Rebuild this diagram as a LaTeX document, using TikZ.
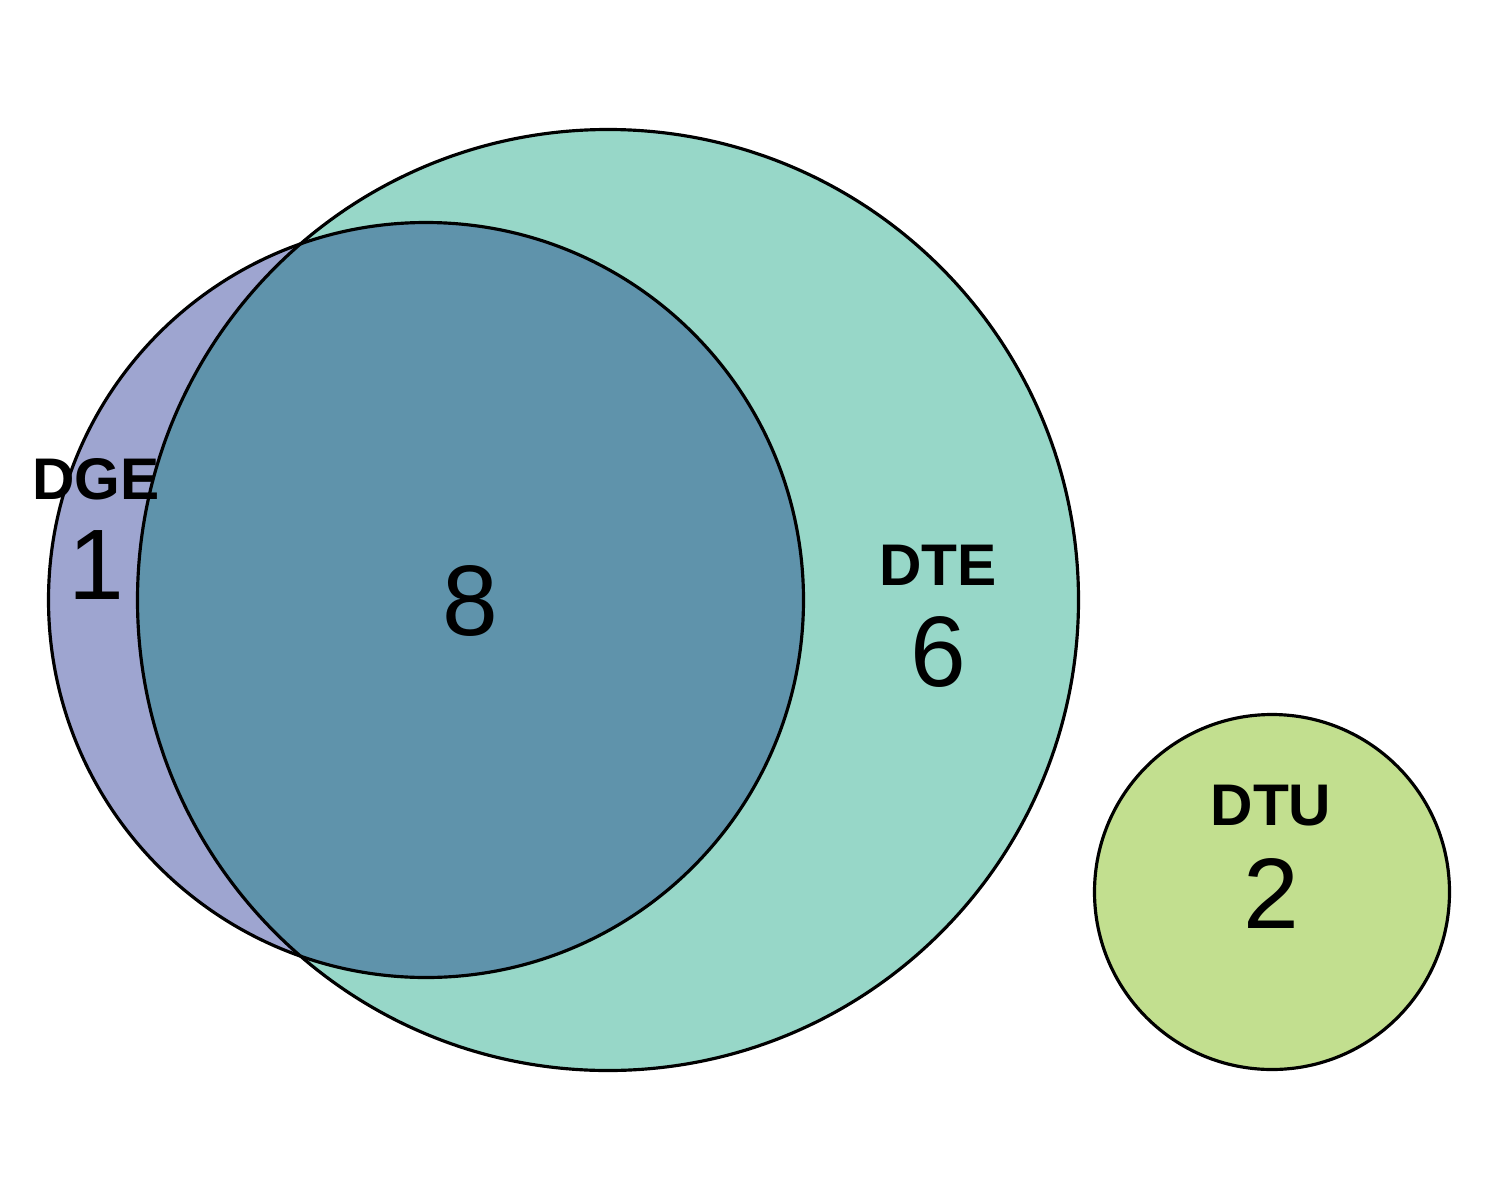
\documentclass[tikz,border=0pt]{standalone}
\usepackage{fontspec}
\setmainfont{Liberation Sans}
\definecolor{dgecol}{RGB}{158,165,208}
\definecolor{dtecol}{RGB}{151,215,200}
\definecolor{bothcol}{RGB}{95,147,171}
\definecolor{dtucol}{RGB}{194,223,143}
\begin{document}
\begin{tikzpicture}[x=0.01cm,y=-0.01cm,
  setname/.style={font=\fontsize{16.7}{20}\selectfont\bfseries, inner sep=0pt},
  setcount/.style={font=\fontsize{28.5}{34}\selectfont, inner sep=0pt},
  outline/.style={draw=black, line width=0.9pt}]
\useasboundingbox (0,0) rectangle (1500,1200);
% fills
\fill[dgecol] (426,600) circle[radius=377.5];
\fill[dtecol] (608,600) circle[radius=470.5];
\begin{scope}
  \clip (426,600) circle[radius=377.5];
  \fill[bothcol] (608,600) circle[radius=470.5];
\end{scope}
\fill[dtucol] (1272,892) circle[radius=177.5];
% outlines
\draw[outline] (426,600) circle[radius=377.5];
\draw[outline] (608,600) circle[radius=470.5];
\draw[outline] (1272,892) circle[radius=177.5];
% labels
\node[setname] (dge) at (96,479) {DGE};
\node[setcount] (n1) at (96,565) {1};
\node[setcount] (n8) at (470,601) {8};
\node[setname] (dte) at (938,565) {DTE};
\node[setcount] (n6) at (938,652) {6};
\node[setname] (dtu) at (1271,806) {DTU};
\node[setcount] (n2) at (1271,893) {2};
\end{tikzpicture}
\end{document}
